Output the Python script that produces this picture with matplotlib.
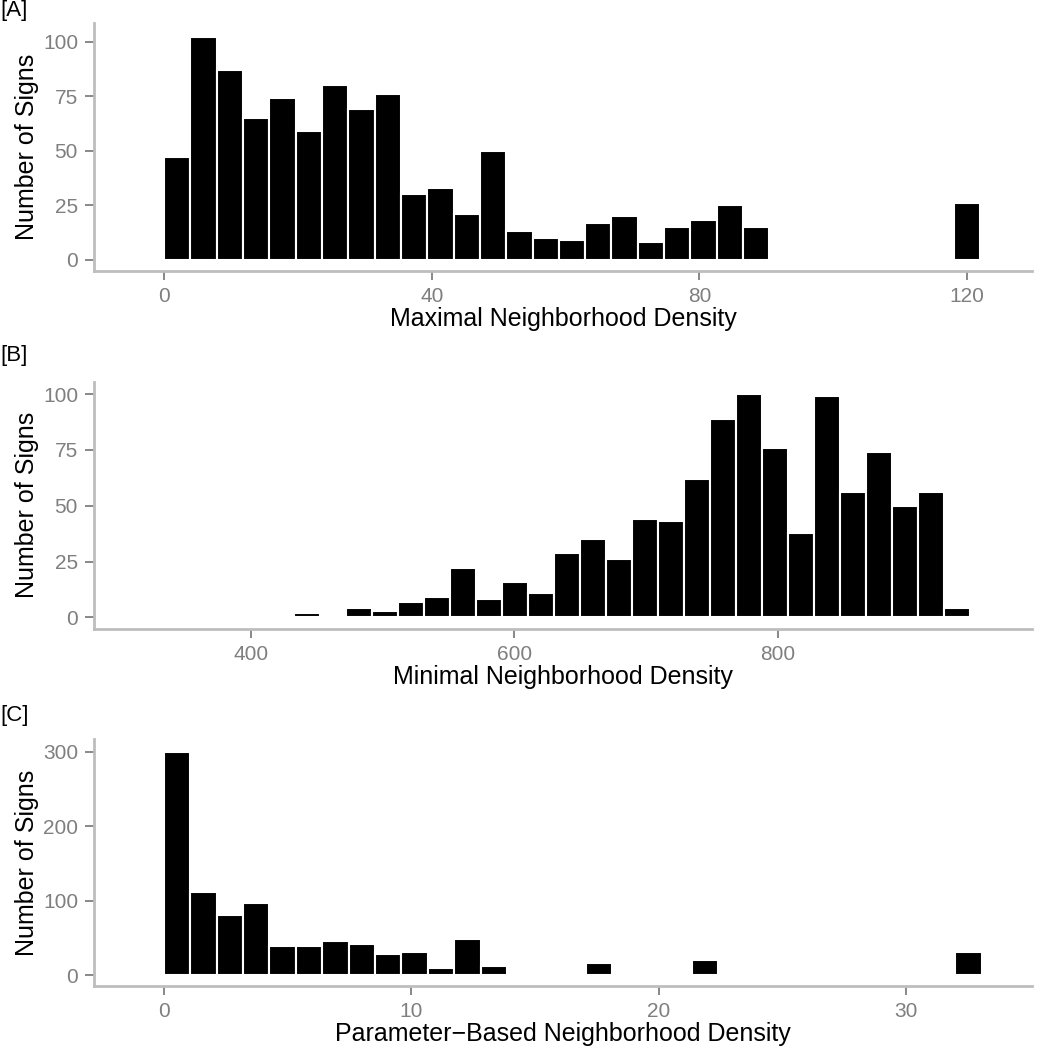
import numpy as np
import matplotlib
matplotlib.use("Agg")
import matplotlib.pyplot as plt

# histogram counts (31 bins each, ggplot-style bins=30 over the data range)
max_start = 0.0
max_width = 118 / 30
max_counts = [47, 102, 87, 65, 74, 59, 80, 69, 76, 30, 33, 21, 50, 13, 10, 9,
              17, 20, 8, 15, 18, 25, 15, 0, 0, 0, 0, 0, 0, 0, 26]

min_start = 334.0
min_width = 19.73
min_counts = [0, 0, 0, 0, 0, 2, 0, 4, 3, 7, 9, 22, 8, 16, 11, 29, 35, 26, 44,
              43, 62, 89, 100, 76, 38, 99, 56, 74, 50, 56, 4]

par_start = 0.0
par_width = 32 / 30
par_counts = [300, 112, 81, 97, 40, 40, 46, 42, 28, 31, 10, 49, 12, 0, 0, 0,
              16, 0, 0, 0, 20, 0, 0, 0, 0, 0, 0, 0, 0, 0, 31]

# panel settings
panels = [
    ("[A]", "Maximal Neighborhood Density", max_start, max_width, max_counts,
     [0, 40, 80, 120], [0, 25, 50, 75, 100], (-10.46, 129.7), (-5.2, 108.4)),
    ("[B]", "Minimal Neighborhood Density", min_start, min_width, min_counts,
     [400, 600, 800], [0, 25, 50, 75, 100], (281.0, 993.0), (-5.25, 105.6)),
    ("[C]", "Parameter\u2212Based Neighborhood Density", par_start, par_width, par_counts,
     [0, 10, 20, 30], [0, 100, 200, 300], (-2.83, 35.1), (-14.4, 317.0)),
]

# axes boxes in pixels (left, top, right, bottom)
boxes = [(94, 23.3, 1032, 271), (94, 381.7, 1032, 629), (94, 739.3, 1032, 986)]
label_y = [0, 345, 705]

W, H = 1038, 1050
plt.rcParams["font.family"] = ["Liberation Sans", "DejaVu Sans"]
fig = plt.figure(figsize=(W / 100, H / 100), dpi=100)

for (tag, xlabel, start, width, counts, xt, yt, xl, yl), box, ly in zip(panels, boxes, label_y):
    l, t, r, b = box
    ax = fig.add_axes([l / W, 1 - b / H, (r - l) / W, (b - t) / H])

    centers = start + width * (np.arange(len(counts)) + 0.5)
    ax.bar(centers, counts, width=width, color="black", edgecolor="white", linewidth=1.5)

    ax.set_xlim(*xl)
    ax.set_ylim(*yl)
    ax.set_xticks(xt)
    ax.set_yticks(yt)

    for side in ["top", "right"]:
        ax.spines[side].set_visible(False)
    for side in ["left", "bottom"]:
        ax.spines[side].set_color("#bdbdbd")
        ax.spines[side].set_linewidth(2.0)

    ax.tick_params(axis="both", colors="#7f7f7f", labelcolor="#7f7f7f",
                   length=6.5, width=1.3, labelsize=15, pad=5)

    ax.set_xlabel(xlabel, fontsize=18, color="black", labelpad=0.5)
    ax.set_ylabel("Number of Signs", fontsize=18, color="black", labelpad=3)

    fig.text(0, 1 - ly / H, tag, fontsize=16, ha="left", va="top")

fig.savefig("out.png", dpi=100)
